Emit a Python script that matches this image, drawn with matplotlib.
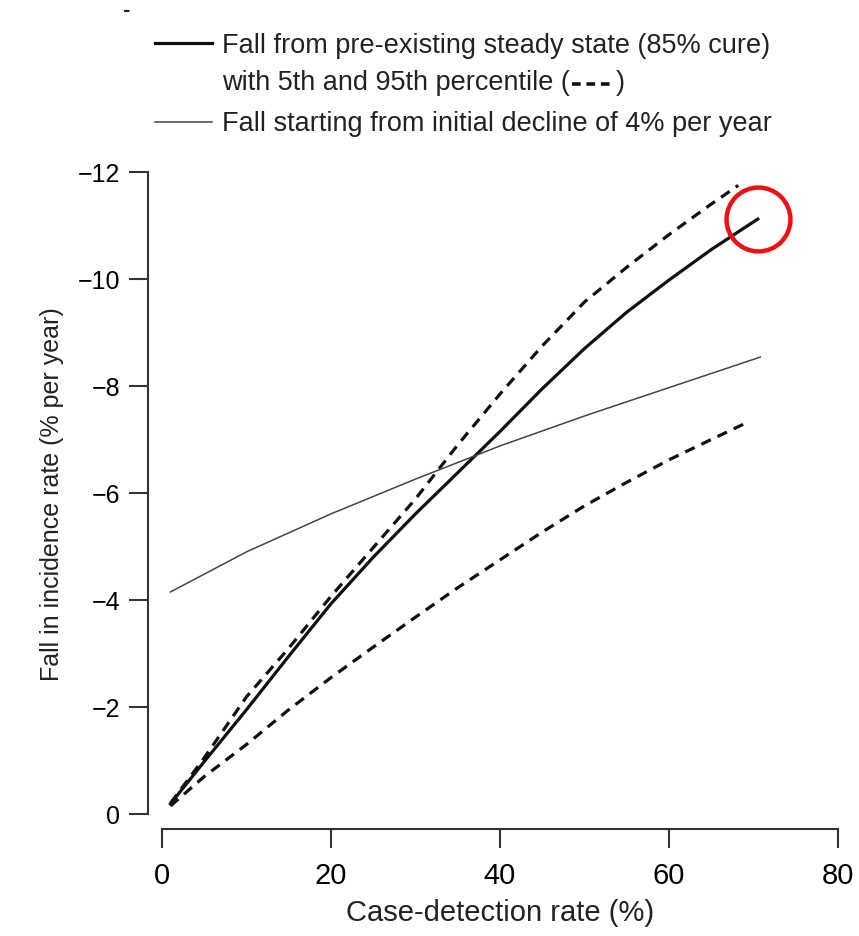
import matplotlib
matplotlib.use("Agg")
import matplotlib.pyplot as plt
from matplotlib.lines import Line2D

# =====================================================
# DATA
# =====================================================
steady_x = [1, 5, 10, 15, 20, 25, 30, 35, 40, 45, 50, 55, 60, 65, 70.5]
steady_y = [-0.19, -0.98, -1.95, -2.95, -3.93, -4.8, -5.61, -6.38, -7.15,
            -7.95, -8.7, -9.38, -9.98, -10.55, -11.12]

upper_x = [1, 5, 10, 15, 20, 25, 30, 35, 40, 45, 50, 55, 60, 65, 68.2]
upper_y = [-0.2, -1.05, -2.19, -3.1, -4.07, -4.98, -5.89, -6.9, -7.85,
           -8.75, -9.57, -10.22, -10.83, -11.4, -11.75]

lower_x = [1, 5, 10, 15, 20, 25, 30, 35, 40, 45, 50, 55, 60, 65, 69]
lower_y = [-0.15, -0.7, -1.3, -1.95, -2.55, -3.12, -3.68, -4.23, -4.75,
           -5.27, -5.76, -6.2, -6.62, -7.0, -7.3]

decline_x = [1, 10, 20, 30, 40, 50, 60, 70.8]
decline_y = [-4.15, -4.9, -5.61, -6.26, -6.88, -7.44, -7.97, -8.54]

x_ticks = [0, 20, 40, 60, 80]
y_ticks = [0, -2, -4, -6, -8, -10, -12]

legend_steady = "Fall from pre-existing steady state (85% cure)"
legend_pct = "with 5th and 95th percentile ("
legend_decline = "Fall starting from initial decline of 4% per year"

# =====================================================
# FIGURE
# =====================================================
W, H = 859, 937
plt.rcParams["font.family"] = ["Liberation Sans", "DejaVu Sans"]
fig = plt.figure(figsize=(W / 100, H / 100), dpi=100)

ax = fig.add_axes([162 / W, (H - 815) / H, 676 / W, 642 / H])

dash = (3.3, 2.3)
ax.plot(steady_x, steady_y, color="#111111", lw=2.3, solid_joinstyle="round")
ax.plot(upper_x, upper_y, color="#111111", lw=2.3, dashes=dash)
ax.plot(lower_x, lower_y, color="#111111", lw=2.3, dashes=dash)
ax.plot(decline_x, decline_y, color="#444444", lw=1.1, solid_joinstyle="round")

# highlight circle at the end of the steady-state curve
ax.plot(steady_x[-1:], steady_y[-1:], marker="o", ms=46, mfc="none",
        mec="#ee1111", mew=3.2, clip_on=False)

ax.set_xlim(0, 80)
ax.set_ylim(0, -12)
ax.set_xticks(x_ticks)
ax.set_yticks(y_ticks)

for side in ["top", "right"]:
    ax.spines[side].set_visible(False)
ax.spines["left"].set_position(("outward", 10))
ax.spines["bottom"].set_position(("outward", 11))
for side in ["left", "bottom"]:
    ax.spines[side].set_linewidth(1.5)
    ax.spines[side].set_color("#333333")

ax.tick_params(axis="both", direction="out", length=14, width=1.5, color="#333333")
ax.tick_params(axis="y", pad=6, labelsize=18)
ax.tick_params(axis="x", pad=9, labelsize=21)

ax.set_xlabel("Case-detection rate (%)", fontsize=21, labelpad=6, color="#222222")
ax.set_ylabel("Fall in incidence rate (% per year)", fontsize=18, labelpad=10,
              color="#222222")

# =====================================================
# LEGEND (drawn by hand, top of the figure)
# =====================================================
def fx(px):
    return px / W


def fy(py):
    return 1 - py / H


fig.add_artist(Line2D([fx(155), fx(212)], [fy(44), fy(44)], color="#111111", lw=2.3))
fig.add_artist(Line2D([fx(155), fx(212)], [fy(123), fy(123)], color="#444444", lw=1.1))

t1 = fig.text(fx(222), fy(46), legend_steady, fontsize=19.5, va="center", color="#222222")
t2 = fig.text(fx(222), fy(83), legend_pct, fontsize=19.5, va="center", color="#222222")
t3 = fig.text(fx(222), fy(124), legend_decline, fontsize=19.5, va="center", color="#222222")

fig.canvas.draw()
bb = t2.get_window_extent()
x0 = bb.x1 + 2
fig.add_artist(Line2D([x0 / W, (x0 + 40) / W], [fy(85), fy(85)], color="#111111",
                      lw=2.6, dashes=(2.4, 1.6)))
fig.text((x0 + 44) / W, fy(83), ")", fontsize=19.5, va="center", color="#222222")

# cut-off mark at the very top
fig.text(fx(122), fy(10), "-", fontsize=16, fontweight="bold", va="center", color="#222222")

fig.savefig("out.png", dpi=100)
